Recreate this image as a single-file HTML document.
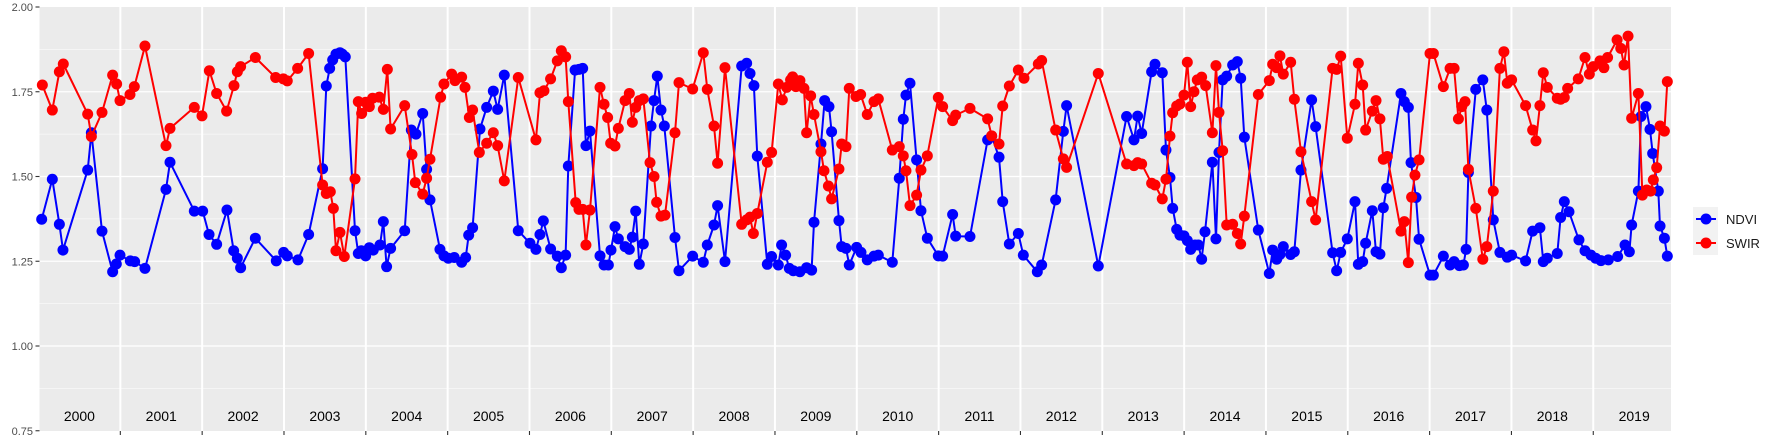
<!DOCTYPE html>
<html><head><meta charset="utf-8"><style>
body{margin:0;background:#fff;}
svg{display:block;font-family:"Liberation Sans",sans-serif;}
</style></head><body>
<svg id="chart" width="1773" height="442" viewBox="0 0 1773 442" xmlns="http://www.w3.org/2000/svg">
<g id="panel"></g>
<g id="yaxis"></g>
<g id="years"></g>
<g id="series"></g>
<g id="legend">
<rect x="1693" y="207" width="25" height="48" fill="#f2f2f2"/>
<g>
<line x1="1696" y1="219" x2="1716" y2="219" stroke="#0000ff" stroke-width="2"/>
<circle cx="1706" cy="219" r="5.5" fill="#0000ff"/>
<text x="1726" y="224" font-size="13" fill="#1a1a1a">NDVI</text></g>
<g>
<line x1="1696" y1="243" x2="1716" y2="243" stroke="#ff0000" stroke-width="2"/>
<circle cx="1706" cy="243" r="5.5" fill="#ff0000"/>
<text x="1726" y="248" font-size="13" fill="#1a1a1a">SWIR</text></g>
</g>
</svg>
<script>
const yTicks=[2.00,1.75,1.50,1.25,1.00,0.75];
const yTickLabels=["2.00","1.75","1.50","1.25","1.00","0.75"];
const years=[2000,2001,2002,2003,2004,2005,2006,2007,2008,2009,2010,2011,2012,2013,2014,2015,2016,2017,2018,2019];
const ndviT=[0.039,0.169,0.255,0.299,0.601,0.646,0.776,0.906,0.951,0.996,1.122,1.175,1.301,1.558,1.607,1.904,2.006,2.084,2.177,2.303,2.385,2.430,2.470,2.650,2.906,2.996,3.040,3.171,3.301,3.472,3.517,3.558,3.595,3.635,3.684,3.713,3.749,3.868,3.908,3.945,3.998,4.043,4.091,4.173,4.214,4.254,4.303,4.475,4.556,4.613,4.695,4.743,4.784,4.906,4.955,5.008,5.081,5.171,5.220,5.257,5.305,5.395,5.477,5.558,5.611,5.692,5.863,6.006,6.079,6.128,6.169,6.258,6.340,6.389,6.442,6.475,6.557,6.605,6.650,6.690,6.739,6.862,6.911,6.964,6.996,7.045,7.086,7.168,7.220,7.257,7.298,7.342,7.391,7.485,7.522,7.562,7.607,7.648,7.778,7.827,7.994,8.124,8.173,8.255,8.299,8.389,8.593,8.654,8.695,8.743,8.784,8.906,8.959,9.041,9.081,9.130,9.175,9.224,9.305,9.387,9.448,9.477,9.562,9.607,9.660,9.692,9.782,9.815,9.868,9.908,9.998,10.051,10.128,10.210,10.263,10.434,10.519,10.568,10.601,10.650,10.731,10.784,10.862,10.996,11.049,11.171,11.208,11.383,11.599,11.648,11.738,11.783,11.864,11.974,12.035,12.206,12.259,12.430,12.524,12.564,12.951,13.297,13.387,13.432,13.481,13.603,13.644,13.733,13.778,13.827,13.860,13.909,13.949,13.998,14.039,14.080,14.133,14.174,14.214,14.255,14.345,14.389,14.426,14.471,14.520,14.593,14.650,14.691,14.736,14.907,15.041,15.082,15.131,15.171,15.212,15.302,15.347,15.428,15.558,15.607,15.815,15.864,15.913,15.994,16.088,16.129,16.182,16.218,16.300,16.345,16.393,16.434,16.475,16.650,16.691,16.740,16.773,16.834,16.871,17.005,17.046,17.168,17.250,17.299,17.364,17.413,17.446,17.474,17.564,17.650,17.699,17.778,17.859,17.949,18.002,18.173,18.259,18.348,18.389,18.438,18.560,18.601,18.646,18.703,18.825,18.899,18.972,19.029,19.094,19.184,19.298,19.388,19.441,19.469,19.551,19.583,19.644,19.693,19.726,19.795,19.816,19.869,19.905];
const ndviV=[1.374,1.492,1.359,1.283,1.519,1.629,1.339,1.219,1.242,1.268,1.251,1.249,1.229,1.462,1.542,1.398,1.398,1.329,1.300,1.401,1.281,1.259,1.231,1.318,1.251,1.276,1.266,1.254,1.329,1.523,1.767,1.819,1.844,1.861,1.865,1.861,1.853,1.340,1.273,1.281,1.266,1.290,1.283,1.298,1.367,1.234,1.288,1.340,1.637,1.625,1.686,1.521,1.431,1.285,1.266,1.259,1.261,1.247,1.261,1.327,1.349,1.640,1.704,1.752,1.698,1.799,1.340,1.303,1.285,1.329,1.369,1.286,1.265,1.231,1.268,1.531,1.814,1.816,1.819,1.591,1.634,1.266,1.239,1.239,1.283,1.352,1.316,1.293,1.285,1.321,1.398,1.241,1.301,1.649,1.724,1.796,1.696,1.649,1.320,1.222,1.265,1.247,1.298,1.357,1.414,1.249,1.826,1.834,1.804,1.768,1.560,1.241,1.264,1.239,1.298,1.268,1.229,1.222,1.219,1.231,1.224,1.365,1.596,1.724,1.706,1.632,1.370,1.293,1.288,1.239,1.291,1.276,1.254,1.265,1.268,1.247,1.495,1.669,1.740,1.775,1.549,1.399,1.318,1.266,1.265,1.388,1.324,1.323,1.608,1.619,1.557,1.426,1.301,1.332,1.268,1.219,1.239,1.431,1.633,1.709,1.236,1.677,1.608,1.678,1.627,1.809,1.831,1.806,1.578,1.497,1.406,1.344,1.327,1.325,1.311,1.285,1.298,1.298,1.256,1.337,1.542,1.316,1.571,1.785,1.796,1.829,1.839,1.790,1.616,1.342,1.214,1.283,1.256,1.270,1.293,1.270,1.278,1.519,1.726,1.647,1.275,1.222,1.276,1.316,1.426,1.241,1.249,1.303,1.399,1.278,1.271,1.408,1.465,1.745,1.721,1.704,1.541,1.438,1.315,1.209,1.209,1.265,1.239,1.249,1.237,1.239,1.285,1.512,1.757,1.785,1.696,1.372,1.276,1.262,1.268,1.251,1.339,1.349,1.249,1.259,1.273,1.379,1.426,1.396,1.313,1.281,1.268,1.259,1.252,1.254,1.264,1.298,1.278,1.357,1.457,1.677,1.706,1.639,1.568,1.457,1.354,1.318,1.265];
const swirT=[0.047,0.169,0.255,0.303,0.601,0.646,0.776,0.906,0.955,0.996,1.118,1.171,1.301,1.558,1.607,1.904,1.998,2.088,2.177,2.299,2.389,2.430,2.470,2.650,2.898,2.992,3.040,3.167,3.301,3.472,3.517,3.566,3.603,3.635,3.684,3.737,3.868,3.908,3.949,3.998,4.043,4.083,4.165,4.214,4.263,4.303,4.475,4.564,4.605,4.695,4.743,4.784,4.914,4.955,5.049,5.090,5.171,5.212,5.265,5.305,5.387,5.477,5.558,5.611,5.692,5.863,6.079,6.128,6.177,6.258,6.340,6.389,6.442,6.475,6.565,6.605,6.650,6.690,6.739,6.862,6.911,6.955,6.992,7.045,7.086,7.168,7.220,7.257,7.298,7.342,7.391,7.473,7.522,7.554,7.607,7.656,7.778,7.827,7.994,8.124,8.173,8.255,8.299,8.389,8.593,8.654,8.695,8.736,8.784,8.906,8.959,9.041,9.090,9.143,9.191,9.216,9.256,9.305,9.354,9.387,9.436,9.477,9.562,9.599,9.653,9.692,9.782,9.815,9.868,9.908,9.990,10.047,10.128,10.210,10.263,10.434,10.519,10.568,10.601,10.650,10.731,10.784,10.862,10.996,11.049,11.171,11.208,11.383,11.599,11.648,11.738,11.783,11.864,11.974,12.043,12.218,12.259,12.430,12.524,12.564,12.951,13.297,13.387,13.432,13.481,13.603,13.644,13.733,13.778,13.827,13.860,13.909,13.949,13.998,14.039,14.080,14.120,14.161,14.214,14.263,14.345,14.389,14.426,14.471,14.520,14.593,14.650,14.691,14.736,14.907,15.041,15.082,15.131,15.171,15.212,15.302,15.347,15.428,15.558,15.607,15.815,15.864,15.913,15.994,16.088,16.129,16.182,16.218,16.300,16.345,16.393,16.434,16.483,16.650,16.691,16.740,16.780,16.821,16.871,17.005,17.046,17.168,17.250,17.299,17.352,17.393,17.433,17.474,17.564,17.650,17.699,17.778,17.859,17.908,17.949,18.002,18.173,18.259,18.300,18.348,18.389,18.438,18.560,18.601,18.646,18.687,18.817,18.899,18.952,19.000,19.082,19.130,19.175,19.291,19.336,19.376,19.425,19.469,19.551,19.600,19.653,19.702,19.734,19.775,19.816,19.869,19.905];
const swirV=[1.770,1.696,1.809,1.832,1.684,1.618,1.689,1.799,1.773,1.724,1.742,1.765,1.885,1.591,1.642,1.704,1.679,1.812,1.745,1.693,1.768,1.809,1.824,1.851,1.792,1.788,1.782,1.819,1.863,1.475,1.450,1.455,1.406,1.281,1.335,1.264,1.493,1.721,1.686,1.719,1.706,1.731,1.734,1.698,1.816,1.640,1.709,1.565,1.482,1.448,1.495,1.551,1.734,1.773,1.802,1.783,1.793,1.763,1.674,1.696,1.571,1.598,1.629,1.591,1.487,1.792,1.608,1.747,1.753,1.788,1.841,1.871,1.853,1.721,1.423,1.403,1.403,1.298,1.401,1.763,1.713,1.674,1.598,1.590,1.642,1.724,1.745,1.660,1.704,1.724,1.729,1.541,1.500,1.424,1.383,1.386,1.629,1.777,1.758,1.865,1.757,1.649,1.539,1.821,1.359,1.372,1.380,1.332,1.391,1.542,1.571,1.773,1.726,1.763,1.785,1.794,1.765,1.783,1.760,1.629,1.738,1.683,1.573,1.517,1.472,1.434,1.522,1.596,1.588,1.760,1.736,1.742,1.683,1.721,1.729,1.578,1.588,1.561,1.517,1.414,1.445,1.519,1.561,1.733,1.706,1.665,1.681,1.701,1.670,1.620,1.596,1.708,1.767,1.814,1.790,1.832,1.842,1.637,1.552,1.527,1.804,1.537,1.532,1.541,1.537,1.480,1.475,1.434,1.492,1.619,1.688,1.708,1.714,1.740,1.837,1.706,1.750,1.785,1.793,1.768,1.629,1.827,1.689,1.576,1.357,1.359,1.332,1.301,1.383,1.742,1.783,1.831,1.821,1.856,1.802,1.837,1.728,1.573,1.426,1.372,1.819,1.816,1.855,1.613,1.713,1.834,1.770,1.637,1.693,1.724,1.670,1.551,1.559,1.339,1.367,1.246,1.439,1.504,1.549,1.863,1.863,1.765,1.819,1.819,1.670,1.706,1.721,1.521,1.406,1.256,1.293,1.457,1.819,1.868,1.775,1.785,1.709,1.637,1.605,1.709,1.806,1.763,1.731,1.728,1.733,1.760,1.788,1.851,1.802,1.824,1.841,1.821,1.851,1.903,1.878,1.829,1.914,1.672,1.745,1.445,1.460,1.457,1.490,1.526,1.649,1.634,1.780];

const NS="http://www.w3.org/2000/svg";
const PL=39.5,PR=1671,PT=7,PB=431;
const xS=t=>38.5+81.83*t;
const yS=v=>7+(2-v)*339;
function mk(tag,attrs,parent){const e=document.createElementNS(NS,tag);for(const k in attrs)e.setAttribute(k,attrs[k]);parent.appendChild(e);return e;}
const panel=document.getElementById('panel');
const bg=mk('rect',{x:PL,y:PT,width:PR-PL,height:PB-PT,fill:'#ebebeb'},panel);


for(let v=0.875;v<2;v+=0.25){const g=mk('line',{x1:PL,x2:PR,y1:yS(v),y2:yS(v),stroke:'#fff','stroke-width':0.6},panel);

}
yTicks.forEach(v=>{if(v<2&&v>0.8){const g=mk('line',{x1:PL,x2:PR,y1:yS(v),y2:yS(v),stroke:'#fff','stroke-width':1.2},panel);

}});
const ya=document.getElementById('yaxis');
yTicks.forEach((v,i)=>{const y=Math.min(yS(v),PB);
const tk=mk('line',{x1:35.5,x2:39.5,y1:y,y2:y,stroke:'#333','stroke-width':1.1},ya);


const tx=mk('text',{x:33,y:y+4,'text-anchor':'end','font-size':11,fill:'#4d4d4d'},ya);


tx.textContent=yTickLabels[i];});
const yr=document.getElementById('years');
years.forEach((yv,i)=>{
if(i>0){const g=mk('line',{x1:xS(i),x2:xS(i),y1:PT,y2:PB,stroke:'#fff','stroke-width':2},panel);


const tk=mk('line',{x1:xS(i),x2:xS(i),y1:PB,y2:PB+4,stroke:'#333','stroke-width':1.1},ya);

}
const tx=mk('text',{x:xS(i+0.5),y:421,'text-anchor':'middle','font-size':14,fill:'#000'},yr);


tx.textContent=String(yv);});
const ser=document.getElementById('series');
function draw(T,V,col,name){
const g=mk('g',{},ser);


const pts=T.map((t,i)=>xS(t).toFixed(1)+','+yS(V[i]).toFixed(1)).join(' ');
const pl=mk('polyline',{points:pts,fill:'none',stroke:col,'stroke-width':2,'stroke-linejoin':'round'},g);


T.forEach((t,i)=>{const c=mk('circle',{cx:xS(t),cy:yS(V[i]),r:5.5,fill:col},g);

});}
draw(ndviT,ndviV,'#0000ff','ndvi');
draw(swirT,swirV,'#ff0000','swir');
</script>
</body></html>
